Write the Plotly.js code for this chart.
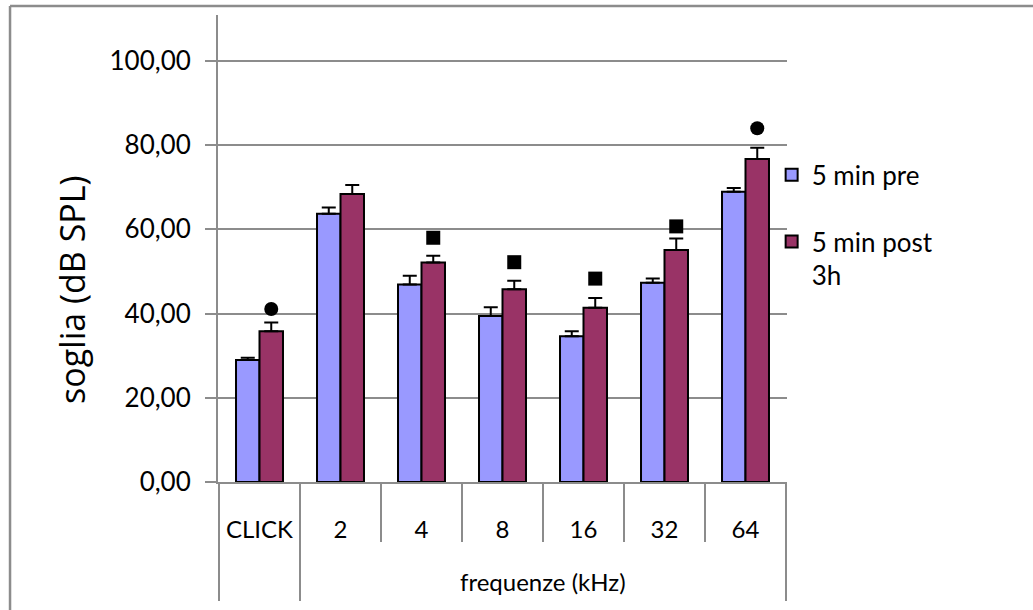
<!DOCTYPE html>
<html>
<head>
<meta charset="utf-8">
<script src="https://cdn.plot.ly/plotly-3.0.1.min.js"></script>
<style>html,body{margin:0;padding:0;background:#fff;}#chart{width:1033px;height:610px;}</style>
</head>
<body>
<div id="chart"></div>
<script>
// ---- data ----
var groups = ["", "frequenze (kHz)", "frequenze (kHz)", "frequenze (kHz)", "frequenze (kHz)", "frequenze (kHz)", "frequenze (kHz)"];
var categories = ["CLICK", "2", "4", "8", "16", "32", "64"];
var preValues = [29.0, 63.7, 46.9, 39.4, 34.6, 47.3, 68.9];
var preErrors = [0.5, 1.5, 2.1, 2.1, 1.2, 1.0, 0.9];
var postValues = [35.8, 68.4, 52.1, 45.8, 41.4, 55.1, 76.7];
var postErrors = [2.1, 2.1, 1.6, 2.0, 2.3, 2.7, 2.7];
var sigSymbols = ["circle", null, "square", "square", "square", "square", "circle"];
var sigY = [41.1, null, 58.0, 52.2, 48.3, 60.7, 84.0];
var seriesNames = ["5 min pre", "5 min post<br>3h"];
var yTitle = "soglia (dB SPL)";
var yTickVals = [0, 20, 40, 60, 80, 100];

var zeros = preValues.map(function(){return 0;});
var FONT = "Lato, 'Open Sans', sans-serif";
var TITLEFONT = "'Open Sans', Lato, sans-serif";
var GRID = "#8c8c8c";

// plot-area geometry (pixels) used to place decorations in paper units
var PLOT_TOP = 15, PLOT_BOTTOM = 482, PLOT_H = PLOT_BOTTOM - PLOT_TOP;
function py(px) { return (PLOT_BOTTOM - px) / PLOT_H; }

var traces = [
  {
    type: "bar", name: seriesNames[0], x: categories, y: preValues,
    offsetgroup: "a", legendgroup: "a",
    marker: {color: "#9999FF", line: {color: "#000", width: 2}},
    error_y: {type: "data", symmetric: false, array: preErrors, arrayminus: zeros, color: "#000", thickness: 2, width: 7}
  },
  {
    type: "bar", name: seriesNames[1], x: categories, y: postValues,
    offsetgroup: "b", legendgroup: "b",
    marker: {color: "#993366", line: {color: "#000", width: 2}},
    error_y: {type: "data", symmetric: false, array: postErrors, arrayminus: zeros, color: "#000", thickness: 2, width: 7}
  },
  {
    type: "scatter", mode: "markers", x: categories, y: preValues.map(function(){return null;}),
    offsetgroup: "a", showlegend: false, hoverinfo: "skip",
    marker: {color: "#000", size: 14}
  },
  {
    type: "scatter", mode: "markers", x: categories, y: sigY,
    offsetgroup: "b", showlegend: false, hoverinfo: "skip",
    marker: {color: "#000", size: 14, symbol: sigSymbols.map(function(s){return s || "circle";})}
  }
];

// category separators (short) and group separators (long) below the x axis
var shapes = [];
for (var i = 0; i <= categories.length; i++) {
  var outer = (i === 0 || i === categories.length || groups[i] !== groups[i - 1]);
  shapes.push({
    type: "line", xref: "x", yref: "paper",
    x0: i - 0.5, x1: i - 0.5, y0: 0, y1: py(outer ? 601 : 542),
    line: {color: GRID, width: 2}
  });
}
// outer frame (left and top edges only)
shapes.push({type: "line", xref: "paper", yref: "paper", x0: -0.3655, x1: -0.3655, y0: -0.3, y1: py(6), line: {color: GRID, width: 2.5}});
shapes.push({type: "line", xref: "paper", yref: "paper", x0: -0.3655, x1: 1.5, y0: py(6), y1: py(6), line: {color: GRID, width: 2.5}});

// group labels
var annotations = [];
var start = 0;
for (var j = 1; j <= groups.length; j++) {
  if (j === groups.length || groups[j] !== groups[start]) {
    if (groups[start]) {
      annotations.push({
        text: groups[start], xref: "x", yref: "paper",
        x: (start + j - 1) / 2, y: py(581), xanchor: "center", yanchor: "middle",
        showarrow: false, font: {family: FONT, size: 24, color: "#000"}
      });
    }
    start = j;
  }
}
// y axis title
annotations.push({
  text: yTitle, xref: "paper", yref: "paper",
  x: (72 - 218) / 569, y: py(290), xanchor: "center", yanchor: "middle",
  textangle: -90, showarrow: false, font: {family: TITLEFONT, size: 34, color: "#000"}
});

var layout = {
  width: 1033, height: 610,
  margin: {l: 218, r: 246, t: PLOT_TOP, b: 610 - PLOT_BOTTOM},
  paper_bgcolor: "#fff", plot_bgcolor: "#fff",
  barmode: "group", bargap: 0.42, bargroupgap: 0,
  scattermode: "group", scattergap: 0.42,
  separators: ",.",
  font: {family: FONT, color: "#000"},
  showlegend: true,
  legend: {
    x: 0.973, xanchor: "left", y: 0.708, yanchor: "top",
    bgcolor: "rgba(0,0,0,0)", borderwidth: 0,
    font: {family: FONT, size: 26, color: "#000"},
    tracegroupgap: 30, valign: "top", traceorder: "grouped"
  },
  xaxis: {
    type: "category",
    showline: true, linecolor: GRID, linewidth: 2,
    ticks: "", ticklabelstandoff: 25,
    tickfont: {family: FONT, size: 24, color: "#000"},
    showgrid: false, zeroline: false, automargin: false
  },
  yaxis: {
    range: [0, 110.9], autorange: false,
    tickvals: yTickVals, tickformat: ".2f",
    showline: true, linecolor: GRID, linewidth: 2,
    ticks: "outside", ticklen: 11, tickcolor: GRID, tickwidth: 2,
    ticklabelstandoff: 9,
    showgrid: true, gridcolor: GRID, gridwidth: 2,
    zeroline: false,
    tickfont: {family: FONT, size: 26, color: "#000"},
    automargin: false
  },
  shapes: shapes,
  annotations: annotations
};

Plotly.newPlot("chart", traces, layout, {displayModeBar: false, staticPlot: true});
</script>
</body>
</html>
